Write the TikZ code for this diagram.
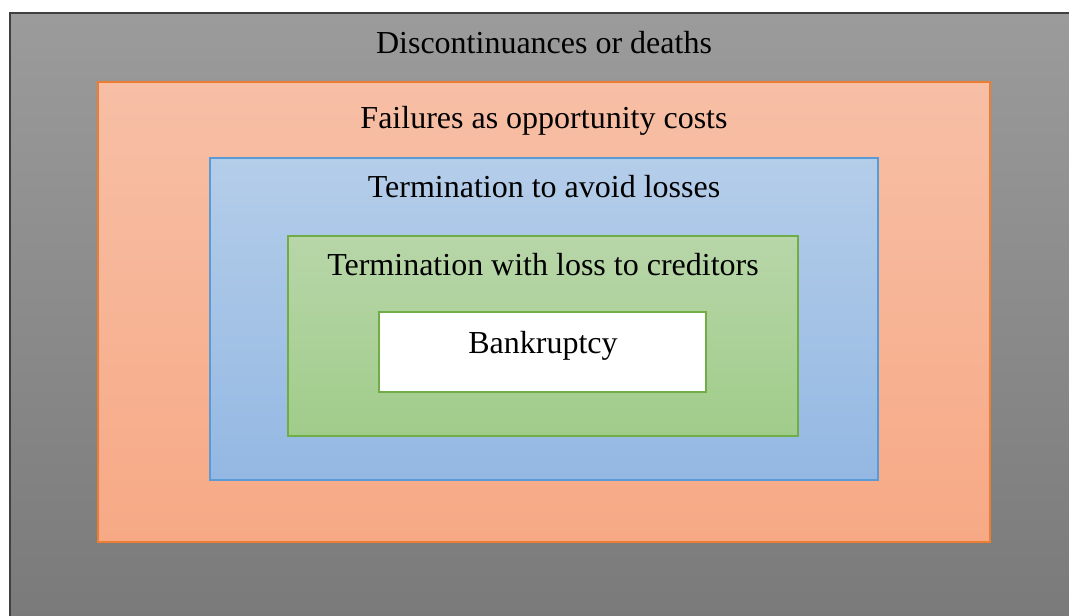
\documentclass[tikz,border=0pt]{standalone}
\usepackage{fontspec}
\setmainfont{Liberation Serif}
\definecolor{grayTop}{HTML}{9B9B9B}
\definecolor{grayBot}{HTML}{7A7A7A}
\definecolor{grayLine}{HTML}{404040}
\definecolor{orTop}{HTML}{F7BFA6}
\definecolor{orBot}{HTML}{F7A985}
\definecolor{orLine}{HTML}{ED7D31}
\definecolor{blTop}{HTML}{B4CDE9}
\definecolor{blBot}{HTML}{94B8E3}
\definecolor{blLine}{HTML}{5B9BD5}
\definecolor{grTop}{HTML}{B8D6A9}
\definecolor{grBot}{HTML}{A0CC8A}
\definecolor{grLine}{HTML}{70AD47}
\tikzset{
  lbl/.style={font=\fontsize{24}{28}\selectfont, anchor=base, inner sep=0pt, text=black},
}
\begin{document}
\begin{tikzpicture}[x=0.75pt,y=-0.75pt]
\useasboundingbox (0,0) rectangle (1069,615);
\clip (0,0) rectangle (1069,615);
\fill[white] (0,0) rectangle (1069,615);
% outer gray
\shade[top color=grayTop, bottom color=grayBot] (10,13) rectangle (1075,620);
\draw[grayLine, line width=1.5pt] (10,622) -- (10,13) -- (1075,13);
% orange
\shade[top color=orTop, bottom color=orBot] (98,82) rectangle (990,542);
\draw[orLine, line width=1.2pt] (98,82) rectangle (990,542);
% blue
\shade[top color=blTop, bottom color=blBot] (210,158) rectangle (878,480);
\draw[blLine, line width=1.2pt] (210,158) rectangle (878,480);
% green
\shade[top color=grTop, bottom color=grBot] (288,236) rectangle (798,436);
\draw[grLine, line width=1pt] (288,236) rectangle (798,436);
% white
\fill[white] (379,312) rectangle (706,392);
\draw[grLine, line width=1.8pt] (379,312) rectangle (706,392);
% labels
\node[lbl] (discont) at (544,53) {Discontinuances or deaths};
\node[lbl] (fail) at (544,128) {Failures as opportunity costs};
\node[lbl] (avoid) at (544,197) {Termination to avoid losses};
\node[lbl] (credit) at (543,275) {Termination with loss to creditors};
\node[lbl] (bank) at (543,353) {Bankruptcy};
\end{tikzpicture}
\end{document}
